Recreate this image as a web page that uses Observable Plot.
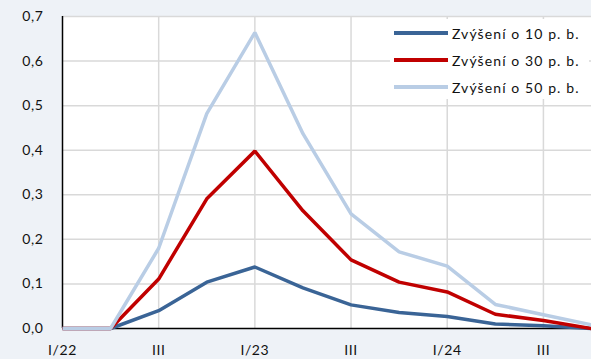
<!DOCTYPE html>
<html>
<head>
<meta charset="utf-8">
<script src="https://cdn.jsdelivr.net/npm/d3@7"></script>
<script src="https://cdn.jsdelivr.net/npm/@observablehq/plot@0.6"></script>
<style>
  html, body { margin: 0; padding: 0; background: #eef2f7; }
  #chart { position: relative; width: 591px; height: 359px; overflow: hidden; }
  #chart svg text { letter-spacing: 0.6px; }
  .legend { position: absolute; left: 390px; top: 19px; width: 199px; height: 80px; background: #fff;
    font-family: Lato, "Open Sans", sans-serif; font-size: 14px; letter-spacing: 1.1px; color: #111; }
  .legend .row { position: absolute; left: 4px; height: 20px; display: flex; align-items: center; white-space: nowrap; }
  .legend .sw { width: 54px; height: 4px; margin-right: 4px; }
</style>
</head>
<body>
<div id="chart"></div>
<script>
const quarters = ["I/22","II/22","III/22","IV/22","I/23","II/23","III/23","IV/23","I/24","II/24","III/24","IV/24"];
const tickLabels = ["I/22","III","I/23","III","I/24","III"];
const seriesNames = ["Zvýšení o 10 p. b.","Zvýšení o 30 p. b.","Zvýšení o 50 p. b."];
const colors = ["#3a6496","#c00000","#b9cde5"];
const s10 = [0, 0, 0.040, 0.104, 0.138, 0.091, 0.053, 0.036, 0.027, 0.010, 0.006, 0.000];
const s30 = [0, 0, 0.111, 0.291, 0.398, 0.264, 0.154, 0.104, 0.082, 0.032, 0.018, 0.000];
const s50 = [0, 0, 0.180, 0.482, 0.664, 0.437, 0.257, 0.172, 0.140, 0.054, 0.031, 0.008];
const yTicks = [0, 0.1, 0.2, 0.3, 0.4, 0.5, 0.6, 0.7];

const allSeries = [s10, s30, s50];
const data = allSeries.flatMap((vals, k) => vals.map((v, i) => ({i, v, s: seriesNames[k]})));

const fmt = d => d.toFixed(1).replace(".", ",");
const font = 'Lato, "Open Sans", sans-serif';

const plot = Plot.plot({
  width: 591, height: 359,
  marginLeft: 62, marginRight: 0, marginTop: 16, marginBottom: 31,
  style: {background: "transparent", fontFamily: font, fontSize: "14px", color: "#111"},
  x: {domain: [0, 11], ticks: [0, 2, 4, 6, 8, 10], tickFormat: (d, j) => tickLabels[j], tickSize: 0, tickPadding: 17, label: null},
  y: {domain: [0, 0.7], ticks: yTicks, tickFormat: fmt, tickSize: 0, tickPadding: 19, label: null},
  color: {domain: seriesNames, range: colors},
  marks: [
    Plot.frame({fill: "#fff", stroke: null}),
    Plot.gridY(yTicks.slice(1), {stroke: "#d9d9d9", strokeOpacity: 1, strokeWidth: 1.5}),
    Plot.gridX([2, 4, 6, 8, 10], {stroke: "#d9d9d9", strokeOpacity: 1, strokeWidth: 1.5}),
    Plot.ruleY([0], {stroke: "#000", strokeWidth: 1.5}),
    Plot.ruleX([0], {stroke: "#000", strokeWidth: 1.5}),
    Plot.line(data, {x: "i", y: "v", z: "s", stroke: "s", strokeWidth: 3.5, strokeLinejoin: "miter", strokeLinecap: "butt"})
  ]
});
const chart = document.getElementById("chart");
chart.appendChild(plot);

const legend = document.createElement("div");
legend.className = "legend";
seriesNames.forEach((name, k) => {
  const row = document.createElement("div");
  row.className = "row";
  row.style.top = (4 + k * 27) + "px";
  const sw = document.createElement("div");
  sw.className = "sw";
  sw.style.background = colors[k];
  const t = document.createElement("span");
  t.textContent = name;
  row.appendChild(sw); row.appendChild(t);
  legend.appendChild(row);
});
chart.appendChild(legend);
</script>
</body>
</html>
